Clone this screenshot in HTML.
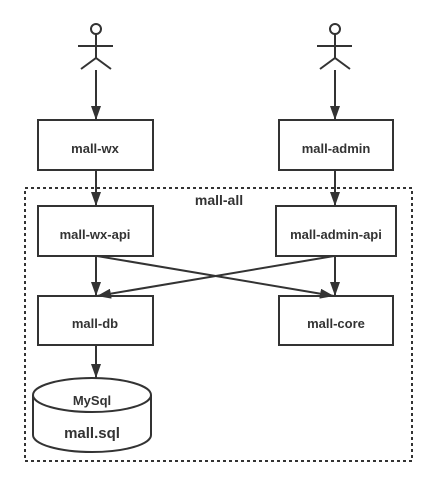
<!DOCTYPE html>
<html><head><style>body{margin:0;background:#fff}</style></head><body>
<svg width="438" height="486" xmlns="http://www.w3.org/2000/svg" font-family="'Liberation Sans',sans-serif" font-weight="bold" fill="none">
<defs>
<marker id="b" markerWidth="14" markerHeight="10" refX="14" refY="5" orient="auto" markerUnits="userSpaceOnUse"><path d="M0,0 L14,5 L0,10 Z" fill="#333"/></marker></defs>
<g stroke="#333" stroke-width="2">
<circle cx="96" cy="29" r="5"/><path d="M96 34V58M78 46H113M81 69L96 58L111 69"/>
<circle cx="335" cy="29" r="5"/><path d="M335 34V58M317 46H352M320 69L335 58L350 69"/>
<rect x="25" y="188" width="387" height="273" stroke-dasharray="3,3"/>
<rect x="38" y="120" width="115" height="50"/>
<rect x="279" y="120" width="114" height="50"/>
<rect x="38" y="206" width="115" height="50"/>
<rect x="276" y="206" width="120" height="50"/>
<rect x="38" y="296" width="115" height="49"/>
<rect x="279" y="296" width="114" height="49"/>
<path d="M33 395V435A59 17 0 0 0 151 435V395"/>
<ellipse cx="92" cy="395" rx="59" ry="17"/>
</g>
<g stroke="#333" stroke-width="2" marker-end="url(#b)">
<line x1="96" y1="70" x2="96" y2="120"/>
<line x1="335" y1="70" x2="335" y2="120"/>
<line x1="96" y1="170" x2="96" y2="206"/>
<line x1="335" y1="170" x2="335" y2="206"/>
<line x1="96" y1="256" x2="96" y2="296"/>
<line x1="335" y1="256" x2="335" y2="296"/>
<line x1="97" y1="256" x2="334" y2="296"/>
<line x1="334" y1="256" x2="97" y2="296"/>
<line x1="96" y1="345" x2="96" y2="378"/>
</g>
<g fill="#333" font-size="13" text-anchor="middle">
<text x="95" y="153">mall-wx</text>
<text x="336" y="153">mall-admin</text>
<text x="95" y="239">mall-wx-api</text>
<text x="336" y="239">mall-admin-api</text>
<text x="95" y="328">mall-db</text>
<text x="336" y="328">mall-core</text>
<text x="92" y="405">MySql</text>
<text x="92" y="438" font-size="15">mall.sql</text>
<text x="219" y="205" font-size="14">mall-all</text>
</g>
</svg>
</body></html>
